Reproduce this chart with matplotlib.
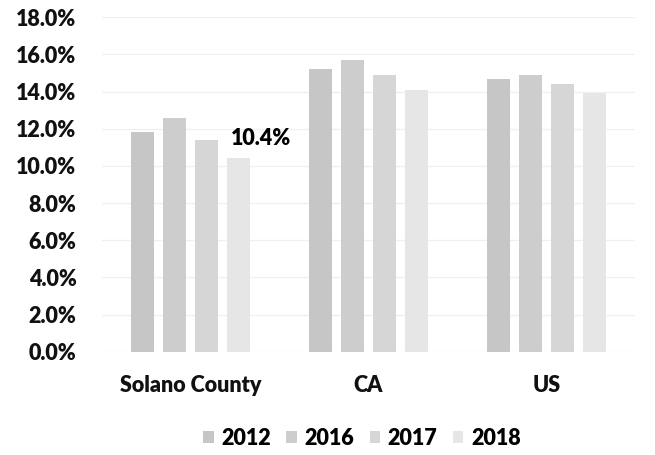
import numpy as np
import matplotlib
matplotlib.use("Agg")
import matplotlib.pyplot as plt
from matplotlib.ticker import FuncFormatter

plt.rcParams['font.family'] = ['Lato', 'DejaVu Sans']
plt.rcParams['font.weight'] = 'heavy'

# datos
categorias = ["Solano County", "CA", "US"]
anios = ["2012", "2016", "2017", "2018"]
v2012 = [11.8, 15.2, 14.7]
v2016 = [12.6, 15.7, 14.9]
v2017 = [11.4, 14.9, 14.4]
v2018 = [10.4, 14.1, 13.9]
colores = ["#c6c6c6", "#cdcdcd", "#d6d6d6", "#e6e6e6"]

series = [v2012, v2016, v2017, v2018]
fs = 15.5

fig = plt.figure(figsize=(6.55, 4.55), dpi=100)
ax = fig.add_axes([0.155, 0.227, 0.815, 0.735])

x = np.arange(len(categorias))
paso = 0.18
ancho = 0.13
for i, (vals, anio) in enumerate(zip(series, anios)):
    ax.bar(x + (i - 1.5) * paso, vals, width=ancho, color=colores[i], label=anio, zorder=2)

# etiqueta del valor 2018 de Solano
ax.annotate("10.4%", xy=(x[0] + 1.5 * paso - ancho / 2, v2018[0]), xytext=(3, 7),
            textcoords="offset points", ha="left", va="bottom", fontsize=fs, fontweight="heavy")

ax.set_ylim(0, 18)
ax.set_yticks(np.arange(0, 18.1, 2))
ax.yaxis.set_major_formatter(FuncFormatter(lambda v, p: "%.1f%%" % v))
ax.set_xlim(-0.5, 2.5)
ax.set_xticks(x)
ax.set_xticklabels(categorias)
ax.grid(axis="y", color="#f0f0f0", linewidth=1, zorder=0)
for s in ax.spines.values():
    s.set_visible(False)
ax.tick_params(length=0, labelsize=fs, colors="#111111")
ax.tick_params(axis="x", pad=17)
ax.tick_params(axis="y", pad=18)

ax.legend(loc="upper center", bbox_to_anchor=(0.488, -0.17), ncol=4, frameon=False,
          fontsize=fs, handlelength=0.5, handleheight=0.5, columnspacing=0.7, handletextpad=0.35)

plt.savefig("out.png", dpi=100)
